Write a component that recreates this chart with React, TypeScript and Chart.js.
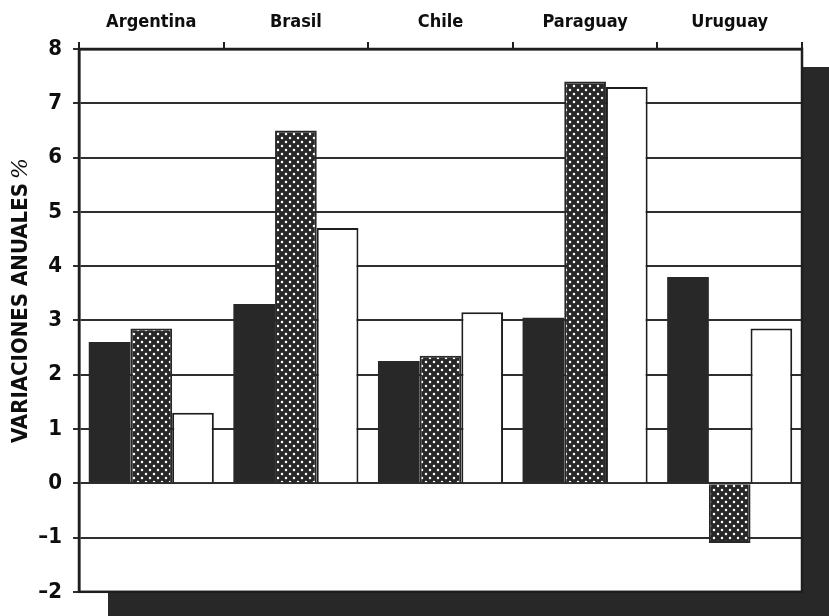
import React, { useEffect, useRef } from 'react';
import { Chart, registerables } from 'chart.js';

Chart.register(...registerables);

const countries: string[] = ['Argentina', 'Brasil', 'Chile', 'Paraguay', 'Uruguay'];
const seriesBlack: number[] = [2.6, 3.3, 2.25, 3.05, 3.8];
const seriesDotted: number[] = [2.85, 6.5, 2.35, 7.4, -1.1];
const seriesWhite: number[] = [1.3, 4.7, 3.15, 7.3, 2.85];
const yTickMin = -2;
const yTickMax = 8;
const yAxisTitle = 'VARIACIONES ANUALES';
const yAxisUnit = '%';

const FONT = "'Liberation Sans Narrow', 'DejaVu Sans Condensed', 'Liberation Sans', sans-serif";
const INK = '#1e1e1e';
const DARK = '#282828';

function makeDotPattern(): CanvasPattern | string {
  const tile = document.createElement('canvas');
  tile.width = 8;
  tile.height = 8;
  const c = tile.getContext('2d');
  if (!c) return DARK;
  c.fillStyle = DARK;
  c.fillRect(0, 0, 8, 8);
  c.fillStyle = '#ffffff';
  [[2, 2], [6, 6]].forEach(([x, y]) => {
    c.beginPath();
    c.arc(x, y, 1.25, 0, Math.PI * 2);
    c.fill();
  });
  const ctx = document.createElement('canvas').getContext('2d');
  return (ctx && ctx.createPattern(tile, 'repeat')) || DARK;
}

const framePlugin = {
  id: 'frame',
  beforeDraw(chart: any) {
    const { ctx, chartArea: a, width, height } = chart;
    ctx.save();
    ctx.fillStyle = '#ffffff';
    ctx.fillRect(0, 0, width, height);
    ctx.fillStyle = DARK;
    ctx.fillRect(a.left + 29, a.top + 18, a.right - a.left, a.bottom - a.top + 30);
    ctx.fillStyle = '#ffffff';
    ctx.fillRect(a.left, a.top, a.right - a.left, a.bottom - a.top);
    ctx.restore();
  },
  afterDatasetsDraw(chart: any) {
    const { ctx, chartArea: a } = chart;
    ctx.save();
    ctx.strokeStyle = INK;
    ctx.lineWidth = 2.5;
    ctx.strokeRect(a.left, a.top, a.right - a.left, a.bottom - a.top);
    ctx.restore();
  },
  afterDraw(chart: any) {
    const { ctx } = chart;
    ctx.save();
    ctx.translate(21, 443);
    ctx.rotate(-Math.PI / 2);
    ctx.fillStyle = '#0e0e0e';
    ctx.textBaseline = 'middle';
    ctx.textAlign = 'left';
    ctx.font = `bold 22px ${FONT}`;
    ctx.fillText(yAxisTitle, 0, 0);
    const w = ctx.measureText(yAxisTitle).width;
    ctx.font = `italic 22px 'DejaVu Serif', serif`;
    ctx.fillText(yAxisUnit, w + 4, 0);
    ctx.restore();
  },
};

export default function App() {
  const ref = useRef<HTMLCanvasElement>(null);
  useEffect(() => {
    if (!ref.current) return;
    const pattern = makeDotPattern();
    const chart = new Chart(ref.current, {
      type: 'bar',
      data: {
        labels: countries,
        datasets: [
          { data: seriesBlack, backgroundColor: DARK, borderColor: DARK, borderWidth: 0 },
          { data: seriesDotted, backgroundColor: pattern as any, borderColor: DARK, borderWidth: 2 },
          { data: seriesWhite, backgroundColor: '#ffffff', borderColor: INK, borderWidth: 2 },
        ],
      },
      options: {
        responsive: false,
        animation: false,
        devicePixelRatio: 1,
        layout: { padding: { left: 0, top: 0, right: 27, bottom: 21 } },
        datasets: { bar: { categoryPercentage: 0.865, barPercentage: 1.0 } },
        plugins: { legend: { display: false }, tooltip: { enabled: false }, title: { display: false } },
        scales: {
          x: {
            position: 'top',
            offset: true,
            afterFit: (s: any) => { s.height = 49; },
            grid: { offset: true, drawOnChartArea: false, drawTicks: true, tickLength: 7, color: INK, lineWidth: 2 },
            border: { display: true, color: INK, width: 2.5 },
            ticks: { color: '#0e0e0e', font: { family: FONT, size: 18, weight: 'bold' }, padding: 9, maxRotation: 0 },
          },
          y: {
            min: yTickMin,
            max: yTickMax,
            afterFit: (s: any) => { s.width = 79; },
            grid: { color: '#2e2e2e', lineWidth: 2, tickLength: 6, drawTicks: true },
            border: { display: true, color: INK, width: 2.5 },
            ticks: {
              stepSize: 1,
              color: '#0e0e0e',
              padding: 11,
              font: { family: FONT, size: 22, weight: 'bold' },
              callback: (v: any) => (Number(v) < 0 ? '\u2013' + Math.abs(Number(v)) : String(v)),
            },
          },
        },
      },
      plugins: [framePlugin],
    });
    return () => chart.destroy();
  }, []);
  return (
    <div style={{ position: 'absolute', left: 0, top: 0, width: 829, height: 616, background: '#fff' }}>
      <canvas ref={ref} width={829} height={616} style={{ display: 'block' }} />
    </div>
  );
}
